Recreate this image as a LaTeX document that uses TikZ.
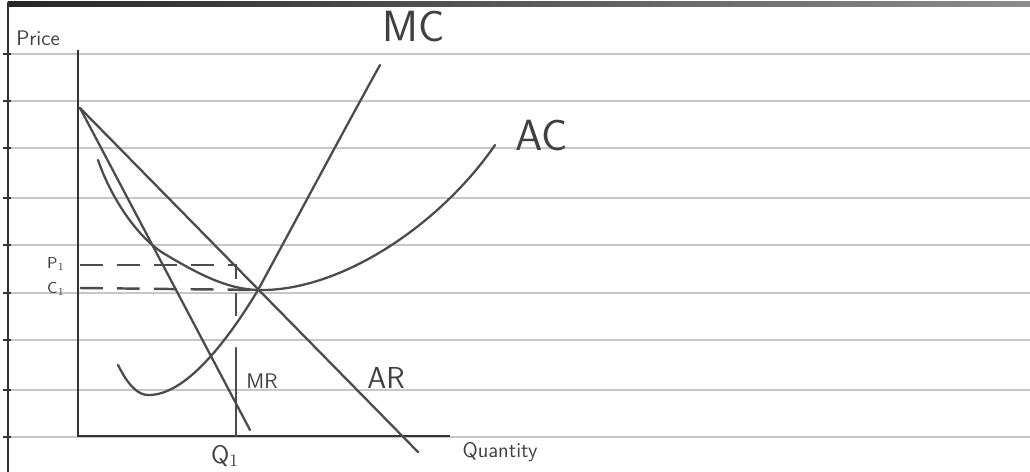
\documentclass[tikz,border=0pt]{standalone}
\usepackage{tikz}
\usetikzlibrary{positioning}
\tikzset{
  rule/.style={black!22, line width=1pt},
  margin/.style={black!80, line width=1.6pt},
  axis/.style={black!80, line width=1.7pt},
  curve/.style={black!70, line width=1.3pt, line cap=round},
  guide/.style={black!70, line width=1.4pt, dash pattern=on 13pt off 8pt},
  lbl/.style={text=black!75, inner sep=1pt, font=\sffamily}
}

\begin{document}
\begin{tikzpicture}[x=0.02cm, y=-0.02cm]
  \useasboundingbox (0,0) rectangle (1030,472);
  \fill[white] (0,0) rectangle (1030,472);

  % lined paper
  \foreach \ry in {54,101,148,198,245,293,340,390,437} {
    \draw[rule] (8,\ry) -- (1030,\ry);
    \draw[margin] (3,\ry) -- (11,\ry);
  }
  \shade[left color=black!85, right color=black!45] (8,2) rectangle (1030,7);
  \draw[margin] (8,2) -- (8,472);

  % axes
  \coordinate (ytop) at (78,50);
  \coordinate (origin) at (78,436);
  \coordinate (xend) at (450,436);
  \draw[axis] (ytop) -- (origin) -- (xend);

  % curve points
  \coordinate (demand) at (80,108);
  \coordinate (arEnd) at (418,452);
  \coordinate (mrEnd) at (250,430);
  \coordinate (eq) at (258,290);
  \coordinate (mcStart) at (118,365);
  \coordinate (mcLow) at (150,395);
  \coordinate (mcTop) at (380,65);
  \coordinate (acStart) at (98,160);
  \coordinate (acBend) at (163,253);
  \coordinate (acTop) at (495,145);

  % AR and MR
  \draw[curve] (demand) -- (arEnd);
  \draw[curve] (demand) -- (mrEnd);

  % MC
  \draw[curve] (mcStart) .. controls (128,385) and (138,396) .. (mcLow)
    .. controls (185,394) and (225,345) .. (eq)
    .. controls (295,222) and (345,128) .. (mcTop);

  % AC
  \draw[curve] (acStart) .. controls (110,195) and (135,235) .. (acBend)
    .. controls (195,272) and (225,289) .. (eq)
    .. controls (340,292) and (440,225) .. (acTop);

  % price and cost levels
  \coordinate (pAxis) at (80,265);
  \coordinate (pCorner) at (236,265);
  \coordinate (pDrop) at (236,320);
  \coordinate (cAxis) at (80,288);
  \coordinate (qTop) at (236,348);
  \coordinate (qFoot) at (236,436);
  \draw[guide] (pAxis) -- (pCorner) -- (pDrop);
  \draw[guide] (cAxis) -- (eq);
  \draw[curve] (qTop) -- (qFoot);

  % labels
  \node[lbl, font=\sffamily\large] (price) at (38,38) {Price};
  \node[lbl, font=\sffamily\Huge] (mcLabel) at (414,26) {MC};
  \node[lbl, font=\sffamily\Huge] (acLabel) at (542,135) {AC};
  \node[lbl, font=\sffamily\small] (pLabel) at (56,264) {P$_1$};
  \node[lbl, font=\sffamily\small] (cLabel) at (56,289) {C$_1$};
  \node[lbl, font=\sffamily\large] (mrLabel) at (262,381) {MR};
  \node[lbl, font=\sffamily\LARGE] (arLabel) at (386,378) {AR};
  \node[lbl, font=\sffamily\Large] (qLabel) at (225,456) {Q$_1$};
  \node[lbl, font=\sffamily\large] (quantity) at (500,452) {Quantity};
\end{tikzpicture}
\end{document}
